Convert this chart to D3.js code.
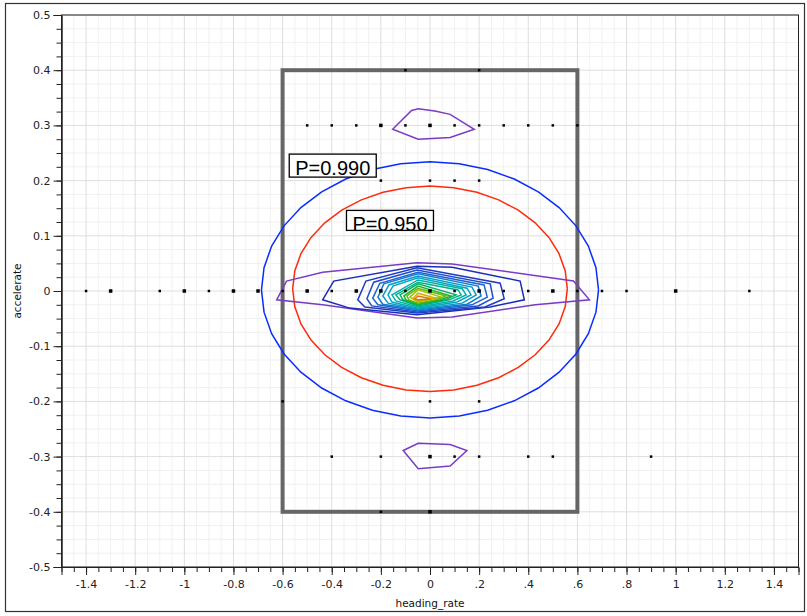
<!DOCTYPE html>
<html><head><meta charset="utf-8">
<script src="https://cdn.jsdelivr.net/npm/d3@7"></script>
<style>body{margin:0;background:#fff}svg{display:block}</style>
</head><body>
<svg id="c" width="807" height="616"></svg>
<script>
// ---------- data ----------
const xTickValues = [-1.4,-1.2,-1,-0.8,-0.6,-0.4,-0.2,0,0.2,0.4,0.6,0.8,1,1.2,1.4];
const xTickLabels = ["-1.4","-1.2","-1","-0.8","-0.6","-0.4","-0.2","0",".2",".4",".6",".8","1","1.2","1.4"];
const yTickValues = [0.5,0.4,0.3,0.2,0.1,0,-0.1,-0.2,-0.3,-0.4,-0.5];
const yTickLabels = ["0.5","0.4","0.3","0.2","0.1","0","-0.1","-0.2","-0.3","-0.4","-0.5"];
const xLabel = "heading_rate";
const yLabel = "accelerate";

// observed points: [heading_rate, accelerate, multiplicity]
const points = [
  [-0.1,0.4,1],[0.2,0.4,1],
  [-0.5,0.3,1],[-0.4,0.3,1],[-0.3,0.3,1],[-0.2,0.3,2],[-0.1,0.3,1],[0,0.3,2],[0.1,0.3,1],[0.2,0.3,1],[0.3,0.3,1],[0.4,0.3,1],[0.5,0.3,1],[0.6,0.3,1],
  [-0.2,0.2,1],[0,0.2,1],[0.1,0.2,1],[0.2,0.2,1],
  [-1.4,0,1],[-1.3,0,2],[-1.1,0,1],[-1.0,0,2],[-0.9,0,1],[-0.8,0,2],[-0.7,0,2],[-0.6,0,1],[-0.5,0,2],[-0.4,0,1],[-0.3,0,2],[-0.2,0,2],[-0.1,0,1],[0,0,2],[0.1,0,1],[0.2,0,2],[0.3,0,1],[0.4,0,1],[0.5,0,2],[0.6,0,1],[0.7,0,1],[0.8,0,1],[1.0,0,2],[1.3,0,1],
  [-0.6,-0.2,1],[0,-0.2,1],[0.2,-0.2,1],
  [-0.4,-0.3,1],[-0.2,-0.3,1],[0,-0.3,2],[0.1,-0.3,1],[0.2,-0.3,1],[0.4,-0.3,1],[0.5,-0.3,1],[0.9,-0.3,1],
  [-0.2,-0.4,1],[0,-0.4,2]
];

// box region
const boxX = [-0.6, 0.6];
const boxY = [-0.4, 0.4];

// probability ellipses
const ellipseLabels = ["P=0.990","P=0.950"];
const ellipseCx = [0, 0];
const ellipseCy = [0.002, 0.004];
const ellipseRx = [0.686, 0.559];
const ellipseRy = [0.232, 0.186];
const ellipseColors = ["#0a2cff","#ff2a0a"];

// density contours (outer -> inner)
const contourColors = ["#7a3cc6","#1b2db4","#1f3cc4","#1f4ccc","#1c62d0","#147cd0","#0a98cc","#00a8c0","#00b0a8","#00b088","#00b060","#20b030","#60b810","#a0c000","#d0b000","#e07000"];
const contours = [
  [[-0.624,-0.016],[-0.584,0.018],[-0.437,0.034],[-0.053,0.051],[0.090,0.049],[0.584,0.018],[0.649,-0.016],[0.429,-0.025],[0.090,-0.047],[-0.053,-0.049],[-0.437,-0.025]],
  [[-0.437,-0.016],[-0.392,0.018],[-0.053,0.045],[0.090,0.043],[0.367,0.018],[0.384,-0.016],[0.245,-0.029],[-0.053,-0.043],[-0.327,-0.031]],
  [[-0.294,-0.016],[-0.261,0.018],[-0.053,0.042],[0.286,0.014],[0.302,-0.014],[0.224,-0.029],[-0.053,-0.040],[-0.265,-0.029]],
  [[-0.257,-0.014],[-0.229,0.016],[-0.053,0.038],[0.245,0.013],[0.257,-0.013],[0.196,-0.027],[-0.053,-0.038],[-0.237,-0.027]],
  [[-0.233,-0.013],[-0.204,0.014],[-0.049,0.034],[0.220,0.011],[0.233,-0.011],[0.171,-0.025],[-0.049,-0.036],[-0.212,-0.025]],
  [[-0.212,-0.011],[-0.188,0.013],[-0.049,0.031],[0.196,0.009],[0.208,-0.009],[0.151,-0.024],[-0.049,-0.034],[-0.192,-0.024]],
  [[-0.192,-0.009],[-0.167,0.011],[-0.049,0.027],[0.171,0.007],[0.188,-0.007],[0.131,-0.022],[-0.049,-0.033],[-0.171,-0.022]],
  [[-0.171,-0.007],[-0.151,0.009],[-0.049,0.024],[0.151,0.005],[0.167,-0.007],[0.110,-0.020],[-0.049,-0.031],[-0.155,-0.020]],
  [[-0.155,-0.007],[-0.049,0.020],[0.131,0.004],[0.147,-0.007],[0.094,-0.018],[-0.049,-0.029],[-0.139,-0.018]],
  [[-0.139,-0.007],[-0.049,0.016],[0.114,0.002],[0.127,-0.007],[0.078,-0.016],[-0.049,-0.027],[-0.122,-0.016]],
  [[-0.122,-0.007],[-0.049,0.013],[0.106,-0.007],[0.061,-0.016],[-0.049,-0.025],[-0.110,-0.016]],
  [[-0.106,-0.009],[-0.049,0.009],[0.086,-0.009],[0.041,-0.016],[-0.049,-0.024],[-0.098,-0.016]],
  [[-0.094,-0.009],[-0.049,0.005],[0.065,-0.009],[0.024,-0.016],[-0.049,-0.022],[-0.086,-0.016]],
  [[-0.082,-0.011],[-0.049,0.002],[0.045,-0.011],[-0.049,-0.020]],
  [[-0.069,-0.013],[-0.049,-0.004],[0.024,-0.013],[-0.049,-0.018]],
  [[-0.061,-0.014],[-0.049,-0.009],[0.004,-0.014],[-0.049,-0.016]]
];
// small isolated contours
const sideContours = [
  [[-0.152,0.293],[-0.075,0.327],[-0.048,0.330],[0.020,0.326],[0.082,0.320],[0.180,0.293],[0.082,0.278],[-0.048,0.275]],
  [[-0.109,-0.289],[-0.048,-0.276],[0.082,-0.278],[0.150,-0.289],[0.082,-0.317],[-0.048,-0.322]]
];
const sideContourColor = "#7a3cc6";

// ---------- drawing ----------
const svg = d3.select("#c");
const L = 61.5, R = 798.5, T = 15, B = 567;
const x = d3.scaleLinear().domain([-1.5,1.5]).range([L,R]);
const y = d3.scaleLinear().domain([-0.5,0.5]).range([B,T]);

// outer frame
svg.append("rect").attr("x",5.5).attr("y",3.5).attr("width",799).attr("height",608)
  .attr("fill","#fff").attr("stroke","#333").attr("stroke-width",1.2);

// grid
const minorX = d3.range(-30,31).map(i=>i*0.05).filter(v=>Math.abs(Math.round(v*5)-v*5)>1e-6);
const majorX = d3.range(-7,8).map(i=>i*0.2);
const minorY = d3.range(-20,21).map(i=>i*0.025).filter(v=>Math.abs(Math.round(v*10)-v*10)>1e-6);
const g = svg.append("g");
g.selectAll(".mx").data(minorX).join("line").attr("x1",d=>x(d)).attr("x2",d=>x(d)).attr("y1",T).attr("y2",B).attr("stroke","#f1f1f1");
g.selectAll(".my").data(minorY).join("line").attr("y1",d=>y(d)).attr("y2",d=>y(d)).attr("x1",L).attr("x2",R).attr("stroke","#f1f1f1");
g.selectAll(".Mx").data(majorX).join("line").attr("x1",d=>x(d)).attr("x2",d=>x(d)).attr("y1",T).attr("y2",B).attr("stroke","#dedede");
g.selectAll(".My").data(yTickValues).join("line").attr("y1",d=>y(d)).attr("y2",d=>y(d)).attr("x1",L).attr("x2",R).attr("stroke","#dedede");

// gray box
svg.append("rect").attr("x",x(boxX[0])).attr("y",y(boxY[1]))
  .attr("width",x(boxX[1])-x(boxX[0])).attr("height",y(boxY[0])-y(boxY[1]))
  .attr("fill","none").attr("stroke","#666").attr("stroke-width",4);

// ellipses
const line = d3.line().x(d=>x(d[0])).y(d=>y(d[1]));
ellipseLabels.forEach((lab,i)=>{
  const pts = d3.range(0,37).map(k=>{const a=k*Math.PI*2/36;return [ellipseCx[i]+ellipseRx[i]*Math.cos(a), ellipseCy[i]+ellipseRy[i]*Math.sin(a)];});
  svg.append("path").attr("d",line(pts)).attr("fill","none").attr("stroke",ellipseColors[i]).attr("stroke-width",1.5);
});

// contours
const cline = d3.line().x(d=>x(d[0])).y(d=>y(d[1])).curve(d3.curveLinearClosed);
svg.append("g").selectAll("path").data(contours).join("path")
  .attr("d",d=>cline(d)).attr("fill","none").attr("stroke",(d,i)=>contourColors[i]).attr("stroke-width",1.5);
svg.append("g").selectAll("path").data(sideContours).join("path")
  .attr("d",d=>cline(d)).attr("fill","none").attr("stroke",sideContourColor).attr("stroke-width",1.5);

// points
svg.append("g").selectAll("rect").data(points).join("rect")
  .attr("x",d=>x(d[0])-(d[2]>1?1.75:1.25)).attr("y",d=>y(d[1])-(d[2]>1?1.75:1.25))
  .attr("width",d=>d[2]>1?3.5:2.5).attr("height",d=>d[2]>1?3.5:2.5).attr("fill","#000");

// plot frame
svg.append("rect").attr("x",L).attr("y",T).attr("width",R-L).attr("height",B-T)
  .attr("fill","none").attr("stroke","#222").attr("stroke-width",1);

// axes
const fontTick = "DejaVu Sans";
const xAxis = d3.axisBottom(x).tickValues(xTickValues).tickFormat((d,i)=>xTickLabels[i]).tickSize(8).tickPadding(5);
const xMinor = d3.axisBottom(x).tickValues(d3.range(-29,30).map(i=>i*0.05)).tickFormat("").tickSize(5);
const yAxis = d3.axisLeft(y).tickValues(yTickValues).tickFormat((d,i)=>yTickLabels[i]).tickSize(8).tickPadding(3);
const yMinor = d3.axisLeft(y).tickValues(d3.range(-19,20).map(i=>i*0.025)).tickFormat("").tickSize(5);
[ [xMinor,"translate(0,"+B+")"], [xAxis,"translate(0,"+B+")"], [yMinor,"translate("+L+",0)"], [yAxis,"translate("+L+",0)"] ].forEach(([ax,tr])=>{
  const a = svg.append("g").attr("transform",tr).call(ax);
  a.select(".domain").attr("stroke","#222");
  a.selectAll(".tick line").attr("stroke","#222");
  a.selectAll("text").attr("fill","#222").style("font-family",fontTick).style("font-size","11px");
});

svg.append("text").attr("x",x(0)).attr("y",607).attr("text-anchor","middle")
  .style("font-family",fontTick).style("font-size","10.5px").attr("fill","#111").text(xLabel);
svg.append("text").attr("transform","translate(21,"+y(0)+") rotate(-90)").attr("text-anchor","middle")
  .style("font-family",fontTick).style("font-size","10.5px").attr("fill","#111").text(yLabel);

// ellipse labels
const labelBoxes = [{x:-0.573,y:0.248,h:23},{x:-0.340,y:0.146,h:20}];
labelBoxes.forEach((b,i)=>{
  const bx = x(b.x), by = y(b.y), w = 87;
  const cid = "clip"+i;
  svg.append("clipPath").attr("id",cid).append("rect").attr("x",bx).attr("y",by).attr("width",w).attr("height",b.h);
  svg.append("rect").attr("x",bx).attr("y",by).attr("width",w).attr("height",b.h).attr("fill","#fff");
  svg.append("text").attr("x",bx+6).attr("y",by+20.5).attr("clip-path","url(#"+cid+")")
    .style("font-family","Liberation Sans").style("font-size","20px").attr("fill","#000").text(ellipseLabels[i]);
  svg.append("rect").attr("x",bx).attr("y",by).attr("width",w).attr("height",b.h)
    .attr("fill","none").attr("stroke","#000").attr("stroke-width",1.3);
});
</script>
</body></html>
